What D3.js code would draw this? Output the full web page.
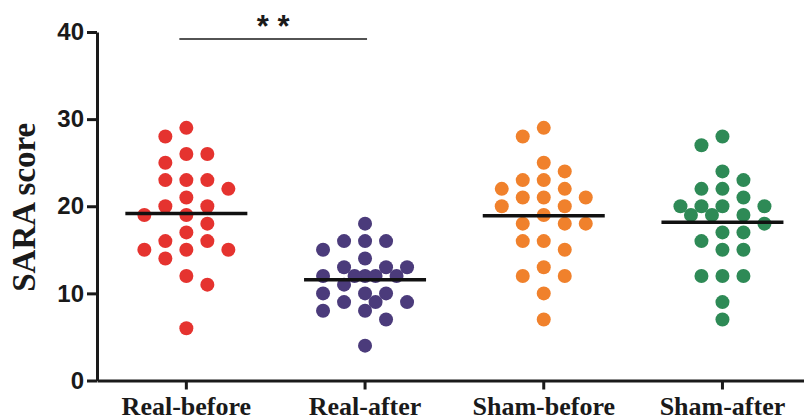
<!DOCTYPE html>
<html>
<head>
<meta charset="utf-8">
<script src="https://cdn.jsdelivr.net/npm/d3@7"></script>
<style>
  body { margin: 0; background: #fff; }
  svg { display: block; }
</style>
</head>
<body>
<svg id="chart" width="804" height="420"></svg>
<script>
// SARA scores per group (25 subjects each)
const categories = ["Real-before", "Real-after", "Sham-before", "Sham-after"];
const realBefore = [29, 28, 26, 26, 25, 23, 23, 23, 22, 21, 20, 20, 19, 19, 18, 17, 16, 16, 15, 15, 15, 14, 12, 11, 6];
const realAfter  = [18, 16, 16, 16, 15, 14, 13, 13, 13, 12, 12, 12, 12, 12, 11, 10, 10, 10, 9, 9, 9, 8, 8, 7, 4];
const shamBefore = [29, 28, 25, 24, 23, 23, 22, 22, 21, 21, 21, 20, 20, 19, 18, 18, 18, 16, 16, 15, 13, 12, 12, 10, 7];
const shamAfter  = [28, 27, 24, 23, 22, 22, 21, 20, 20, 20, 20, 19, 19, 19, 18, 17, 17, 16, 15, 15, 12, 12, 12, 9, 7];
const groupValues = [realBefore, realAfter, shamBefore, shamAfter];
const groupColors = ["#e5332f", "#4b3b7b", "#f0812c", "#2e8a56"];
const yTicks = [0, 10, 20, 30, 40];
const yTitle = "SARA score";
const sigPair = ["Real-before", "Real-after"];
const sigLabel = "* *";

const svg = d3.select("#chart");
const axisLeftX = 97, axisY = 380.5, topY = 32, bandW = 178.7;
const r = 7, slotW = 21, maxSlot = 2, meanHalf = 61;

const x = d3.scaleBand().domain(categories).range([axisLeftX, axisLeftX + bandW * categories.length]).padding(0);
const y = d3.scaleLinear().domain([0, 40]).range([axisY, topY]);

// Column-slot dot layout: points sorted high to low, each placed in the free
// whole slot nearest the group centre (alternating sides); when all slots
// within the group width are taken, fall back to the half-slot position with
// the least overlap.
function swarm(values) {
  const sorted = values.slice().sort((a, b) => b - a);
  const placed = [];
  let balance = 0;
  const dist = (s, v, p) => Math.hypot((p.slot - s) * slotW, y(p.v) - y(v));
  const minDist = (s, v) => placed.length ? d3.min(placed, p => dist(s, v, p)) : Infinity;
  sorted.forEach(v => {
    let slot;
    for (let k = 0; k <= maxSlot && slot === undefined; k++) {
      const cands = k === 0 ? [0] : (balance >= 0 ? [-k, k] : [k, -k]);
      slot = cands.find(s => minDist(s, v) >= 2 * r);
    }
    if (slot === undefined) {
      const half = d3.range(-maxSlot, maxSlot + 0.01, 0.5)
        .sort((a, b) => Math.abs(a) - Math.abs(b) || (balance >= 0 ? a - b : b - a));
      slot = half.reduce((best, s) => minDist(s, v) > minDist(best, v) + 0.5 ? s : best, half[0]);
    }
    placed.push({ v, slot });
    balance += Math.sign(slot);
  });
  return placed;
}

// Y axis
const yAxis = svg.append("g")
  .attr("transform", `translate(${axisLeftX},0)`)
  .call(d3.axisLeft(y).tickValues(yTicks).tickFormat(d3.format("d")).tickSize(10).tickSizeOuter(0).tickPadding(3));
yAxis.select(".domain").attr("stroke", "#1a1a1a").attr("stroke-width", 3);
yAxis.selectAll(".tick line").attr("stroke", "#1a1a1a").attr("stroke-width", 3);
yAxis.selectAll(".tick text")
  .attr("fill", "#1a1a1a")
  .style("font-family", "'Liberation Sans', Arial, sans-serif")
  .style("font-weight", "bold")
  .style("font-size", "24px");

// X axis
const xAxis = svg.append("g")
  .attr("transform", `translate(0,${axisY})`)
  .call(d3.axisBottom(x).tickSize(9).tickSizeOuter(0).tickPadding(7));
xAxis.select(".domain").attr("stroke", "#1a1a1a").attr("stroke-width", 3);
xAxis.selectAll(".tick line").attr("stroke", "#1a1a1a").attr("stroke-width", 3);
xAxis.selectAll(".tick text")
  .attr("fill", "#1a1a1a")
  .style("font-family", "'Liberation Serif', 'Times New Roman', serif")
  .style("font-weight", "bold")
  .style("font-size", "26px");

// Y title
svg.append("text")
  .attr("transform", `translate(35,${(y(0) + y(40)) / 2 + 1}) rotate(-90)`)
  .attr("text-anchor", "middle")
  .attr("fill", "#1a1a1a")
  .style("font-family", "'Liberation Serif', 'Times New Roman', serif")
  .style("font-weight", "bold")
  .style("font-size", "33px")
  .text(yTitle);

// Dots and mean lines
categories.forEach((cat, i) => {
  const cx = x(cat) + x.bandwidth() / 2;
  const pts = swarm(groupValues[i]);
  svg.append("g").selectAll("circle")
    .data(pts)
    .join("circle")
    .attr("cx", d => cx + d.slot * slotW)
    .attr("cy", d => y(d.v))
    .attr("r", r)
    .attr("fill", groupColors[i]);
  const m = d3.mean(groupValues[i]);
  svg.append("line")
    .attr("x1", cx - meanHalf).attr("x2", cx + meanHalf)
    .attr("y1", y(m)).attr("y2", y(m))
    .attr("stroke", "#111").attr("stroke-width", 3.5);
});

// Significance bracket
const sx1 = x(sigPair[0]) + x.bandwidth() / 2 - 7;
const sx2 = x(sigPair[1]) + x.bandwidth() / 2 + 2;
svg.append("line")
  .attr("x1", sx1).attr("x2", sx2).attr("y1", 39).attr("y2", 39)
  .attr("stroke", "#1a1a1a").attr("stroke-width", 1.5);
svg.append("text")
  .attr("x", (sx1 + sx2) / 2).attr("y", 37)
  .attr("text-anchor", "middle")
  .attr("fill", "#1a1a1a")
  .style("font-family", "'Liberation Sans', Arial, sans-serif")
  .style("font-weight", "bold")
  .style("font-size", "31px")
  .text(sigLabel);
</script>
</body>
</html>
